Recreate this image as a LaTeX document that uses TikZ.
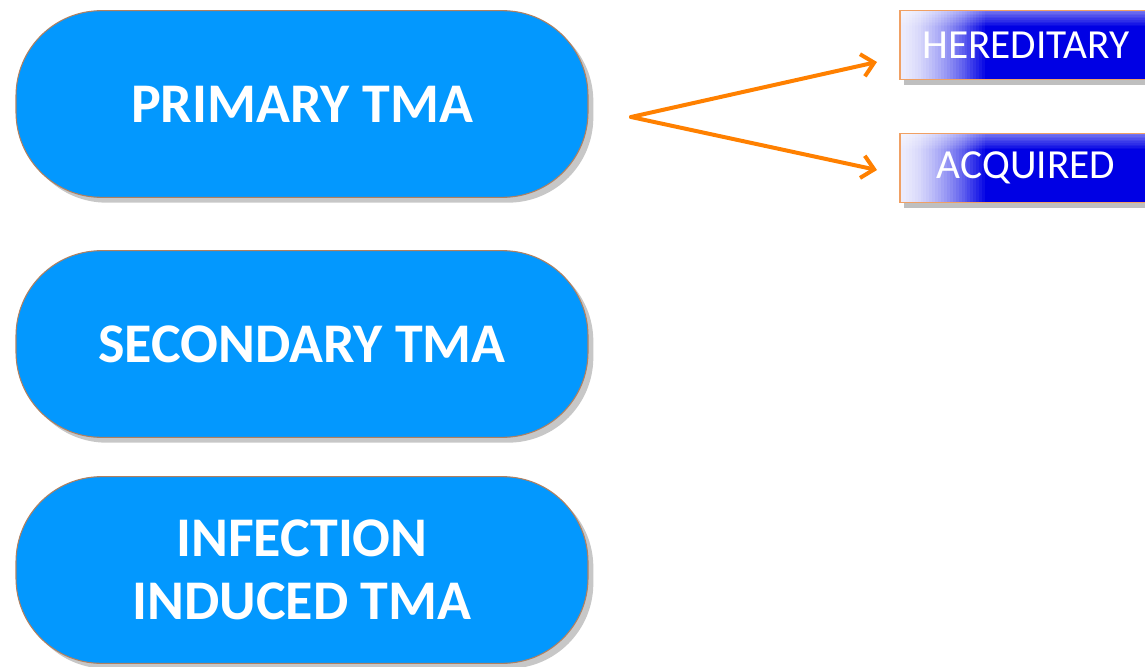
\documentclass[tikz,border=0pt]{standalone}
\usepackage{fontspec}
\setmainfont{Carlito}
\usetikzlibrary{arrows.meta,shadows}
\definecolor{pillblue}{RGB}{3,152,254}
\definecolor{pilledge}{RGB}{176,128,96}
\definecolor{arrorange}{RGB}{255,128,0}
\definecolor{boxblue}{RGB}{0,0,228}
\definecolor{boxedge}{RGB}{240,160,100}
\begin{document}
\begin{tikzpicture}[x=0.75pt,y=-0.75pt,
  pill/.style={draw=pilledge, line width=0.8pt, fill=pillblue, rounded corners=64pt,
    minimum width=429pt, minimum height=140pt, text=white, align=center,
    font=\fontsize{42}{47}\selectfont\bfseries,
    drop shadow={shadow xshift=4pt, shadow yshift=-4pt, fill=black, opacity=0.22}},
  tagbox/.style={draw=boxedge, line width=1pt, fill=boxblue, minimum width=189pt,
    minimum height=52pt, text=white, font=\fontsize{31}{34}\selectfont,
    drop shadow={shadow xshift=3pt, shadow yshift=-4pt, fill=black, opacity=0.25},
    path picture={
      \foreach \i in {0,...,29} {
        \pgfmathsetmacro\c{92*(1-(\i/29)^1.6)}
        \fill[white!\c!boxblue]
          ([xshift=\i*2.2pt]path picture bounding box.north west) rectangle
          ([xshift=\i*2.2pt+2.6pt]path picture bounding box.south west);
      }
      \foreach \j in {0,...,9} {
        \pgfmathsetmacro\o{0.45*(1-\j/10)}
        \fill[white, opacity=\o]
          ([yshift=-\j*1.2pt]path picture bounding box.north west) rectangle
          ([yshift=-\j*1.2pt-1.2pt]path picture bounding box.north east);
      }
    }},
  arr/.style={draw=arrorange, line width=3pt, line cap=round, line join=round,
    -{Straight Barb[length=9pt, width=17pt, line width=3pt]}}]
\path[use as bounding box, clip] (0,0) rectangle (1145,667);

\node[pill] (p1) at (302,104) {PRIMARY TMA};
\node[pill] (p2) at (302,344) {SECONDARY TMA};
\node[pill] (p3) at (302,570) {INFECTION\\INDUCED TMA};

\node[tagbox] (h) at (1026,45) {HEREDITARY};
\node[tagbox] (a) at (1026,168) {ACQUIRED};

\coordinate (fork) at (631,117);
\coordinate (ht) at (877,62);
\coordinate (at) at (877,170);
\draw[arr] (fork) -- (ht);
\draw[arr] (fork) -- (at);
\end{tikzpicture}
\end{document}
